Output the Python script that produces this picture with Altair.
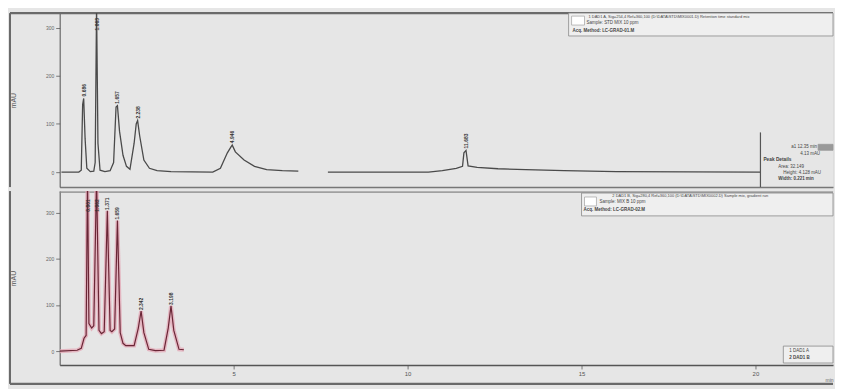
import altair as alt
import pandas as pd

# ---------------- data ----------------
# upper trace, two pieces (the baseline has a gap around 7 min)
top_time_a = [0.05, 0.55, 0.62, 0.66, 0.69, 0.73, 0.78, 0.88, 0.98, 1.02, 1.06, 1.10, 1.16,
              1.30, 1.45, 1.55, 1.62, 1.66, 1.72, 1.82, 1.92, 2.02, 2.14, 2.20, 2.24, 2.30,
              2.42, 2.58, 2.80, 3.20, 4.40, 4.62, 4.82, 4.92, 4.96, 5.05, 5.30, 5.60, 5.95,
              6.40, 6.86]
top_sig_a = [0, 0, 4, 140, 153, 70, 8, 1, 2, 20, 345, 60, 4,
             1, 3, 20, 135, 138, 85, 35, 12, 6, 60, 100, 107, 75,
             25, 8, 3, 1, 0, 8, 40, 52, 56, 42, 25, 12, 5,
             3, 2]
top_time_b = [7.71, 10.6, 11.0, 11.4, 11.58, 11.62, 11.68, 11.74, 12.0, 12.6, 13.4, 14.5, 16.0, 20.14]
top_sig_b = [0, 0, 3, 8, 12, 40, 45, 13, 10, 7, 5, 3, 1, 0]

# lower trace
bot_time = [0.0, 0.5, 0.62, 0.70, 0.76, 0.80, 0.84, 0.92, 0.98, 1.06, 1.13, 1.20, 1.28,
            1.37, 1.45, 1.50, 1.58, 1.66, 1.74, 1.82, 1.90, 2.14, 2.26, 2.34, 2.42, 2.56,
            2.75, 3.0, 3.12, 3.20, 3.28, 3.43, 3.57]
bot_sig = [0, 2, 6, 28, 34, 380, 60, 50, 55, 380, 45, 38, 42,
           304, 45, 42, 48, 283, 40, 17, 12, 12, 50, 87, 40, 4,
           1, 2, 50, 98, 45, 4, 3]

top_peak_time = [0.69, 1.06, 1.66, 2.24, 4.95, 11.68]
top_peak_val = [153, 290, 138, 107, 56, 45]
top_peak_lbl = ["0.686", "1.063", "1.657", "2.238", "4.946", "11.683"]

bot_peak_time = [0.80, 1.06, 1.37, 1.66, 2.34, 3.20]
bot_peak_val = [300, 300, 304, 283, 87, 98]
bot_peak_lbl = ["0.801", "1.062", "1.371", "1.659", "2.342", "3.198"]

y_ticks = [0, 50, 100, 150, 200, 250, 300]
x_ticks = [5, 10, 15, 20]

# ---------------- layout ----------------
W = 778
H_TOP = 175
H_BOT = 175
X_DOMAIN = [0, 22.23]
Y_TOP = [-31, 330]
Y_BOT = [-30, 347]
FONT = "Liberation Sans"
AXC = "#555555"
FRAME = "#6a6a6a"

top_df = pd.DataFrame({
    "t": top_time_a + top_time_b,
    "v": top_sig_a + top_sig_b,
    "seg": ["a"] * len(top_time_a) + ["b"] * len(top_time_b),
})
bot_df = pd.DataFrame({"t": bot_time, "v": bot_sig})
top_pk = pd.DataFrame({"t": top_peak_time, "v": top_peak_val, "s": top_peak_lbl})
bot_pk = pd.DataFrame({"t": bot_peak_time, "v": bot_peak_val, "s": bot_peak_lbl})

one = pd.DataFrame({"a": [0]})


def yaxis():
    return alt.Axis(values=y_ticks, title="mAU", labelFontSize=5, tickSize=4,
                    minExtent=30, maxExtent=30, titlePadding=13, grid=False,
                    domainColor=AXC, tickColor="#777", labelColor="#666",
                    titleColor="#555", titleFontSize=7, titleFontWeight="normal")


def note(text, x, y, size=4.5, weight="normal", color="#444", align="left"):
    return alt.Chart(pd.DataFrame({"s": [text]})).mark_text(
        align=align, baseline="middle", fontSize=size, fontWeight=weight, color=color, font=FONT
    ).encode(x=alt.value(x), y=alt.value(y), text="s:N")


def box(x1, x2, y1, y2, fill="#efefef", stroke="#888"):
    return alt.Chart(one).mark_rect(fill=fill, stroke=stroke, strokeWidth=0.8).encode(
        x=alt.value(x1), x2=alt.value(x2), y=alt.value(y1), y2=alt.value(y2))


def hline(x1, x2, y, color="#666", w=1.0):
    return alt.Chart(one).mark_rule(color=color, strokeWidth=w).encode(
        x=alt.value(x1), x2=alt.value(x2), y=alt.value(y))


def vline(x, y1, y2, color="#666", w=1.0):
    return alt.Chart(one).mark_rule(color=color, strokeWidth=w).encode(
        x=alt.value(x), y=alt.value(y1), y2=alt.value(y2))


xs = alt.Scale(domain=X_DOMAIN, nice=False, zero=False)

# ---------------- upper panel ----------------
top_line = alt.Chart(top_df).mark_line(color="#4a4a4a", strokeWidth=1.3, clip=True).encode(
    x=alt.X("t:Q", scale=xs, axis=alt.Axis(labels=False, ticks=False, title=None, grid=False,
                                           domainColor="#777", domainWidth=1.5)),
    y=alt.Y("v:Q", scale=alt.Scale(domain=Y_TOP, nice=False, zero=False), axis=yaxis()),
    detail="seg:N",
)
top_lbl = alt.Chart(top_pk).mark_text(angle=270, align="left", baseline="middle", dx=2,
                                      fontSize=5, fontWeight="bold", color="#333", font=FONT).encode(
    x="t:Q", y="v:Q", text="s:N")

top_layers = [
    hline(-50, W, 0, FRAME, 2.5),
    vline(-50, 0, H_TOP, FRAME, 2),
    top_line, top_lbl,
    box(512, W, 0, 23),
    box(515, 528, 3, 12, fill="#ffffff", stroke="#aaa"),
    note("1 DAD1 A, Sig=254,4 Ref=360,100 (D:\\DATA\\STD\\MIX0001.D)  Retention time standard mix", 532, 4, 4),
    note("Sample: STD MIX 10 ppm", 530, 10),
    note("Acq. Method: LC-GRAD-01.M", 516, 18, 4.5, "bold"),
    vline(705, 120, H_TOP, "#555", 1.2),
    box(763, W, 132, 138, fill="#999", stroke="#999"),
    note("a1 12.35 min", 762, 135, 4.5, "normal", "#444", "right"),
    note("4.13 mAU", 765, 142, 4.5, "normal", "#444", "right"),
    note("Peak Details", 708, 148, 4.8, "bold"),
    note("Area: 32.149", 723, 155),
    note("Height: 4.128 mAU", 728, 161),
    note("Width: 0.221 min", 723, 167, 4.5, "bold"),
]
top = alt.layer(*top_layers).properties(width=W, height=H_TOP)

# ---------------- lower panel ----------------
bot_x = alt.X("t:Q", scale=xs, axis=alt.Axis(values=x_ticks, title="min", titleAnchor="end",
                                             titleFontSize=5, titleColor="#666", titleFontWeight="normal",
                                             titlePadding=1, labelFontSize=6, labelColor="#555",
                                             tickSize=4, tickColor="#777", grid=False,
                                             domainColor=AXC, domainWidth=1.5))
bot_y = alt.Y("v:Q", scale=alt.Scale(domain=Y_BOT, nice=False, zero=False), axis=yaxis())

bot_halo = alt.Chart(bot_df).mark_line(color="#e4aab8", strokeWidth=4, opacity=0.8, clip=True).encode(
    x=bot_x, y=bot_y)
bot_line = alt.Chart(bot_df).mark_line(color="#6a2636", strokeWidth=1.2, clip=True).encode(
    x=bot_x, y=bot_y)
bot_lbl = alt.Chart(bot_pk).mark_text(angle=270, align="left", baseline="middle", dx=1,
                                      fontSize=5, fontWeight="bold", color="#333", font=FONT).encode(
    x="t:Q", y="v:Q", text="s:N")

bot_layers = [
    hline(0, W, 1, "#888", 1.2),
    vline(-50, 0, H_BOT + 19, FRAME, 2),
    hline(-50, W, H_BOT + 19, FRAME, 2.5),
    bot_halo, bot_line, bot_lbl,
    box(525, W, 2, 25),
    box(528, 540, 6, 15, fill="#ffffff", stroke="#aaa"),
    note("2 DAD1 B, Sig=280,4 Ref=360,100 (D:\\DATA\\STD\\MIX0002.D)  Sample mix, gradient run", 556, 5, 4),
    note("Sample: MIX B 10 ppm", 543, 11),
    note("Acq. Method: LC-GRAD-02.M", 527, 19, 4.5, "bold"),
    box(728, W, 156, 173),
    note("1 DAD1 A", 734, 161, 4.5),
    note("2 DAD1 B", 734, 168, 4.5, "bold"),
]
bottom = alt.layer(*bot_layers).properties(width=W, height=H_BOT)

chart = alt.vconcat(top, bottom, spacing=0).properties(
    background="#e6e6e6",
    padding={"left": 0, "top": 2, "right": 0, "bottom": 2},
).configure_view(stroke=None).configure(font=FONT)

chart.save("out.html", embed_options={"renderer": "svg", "actions": False})
